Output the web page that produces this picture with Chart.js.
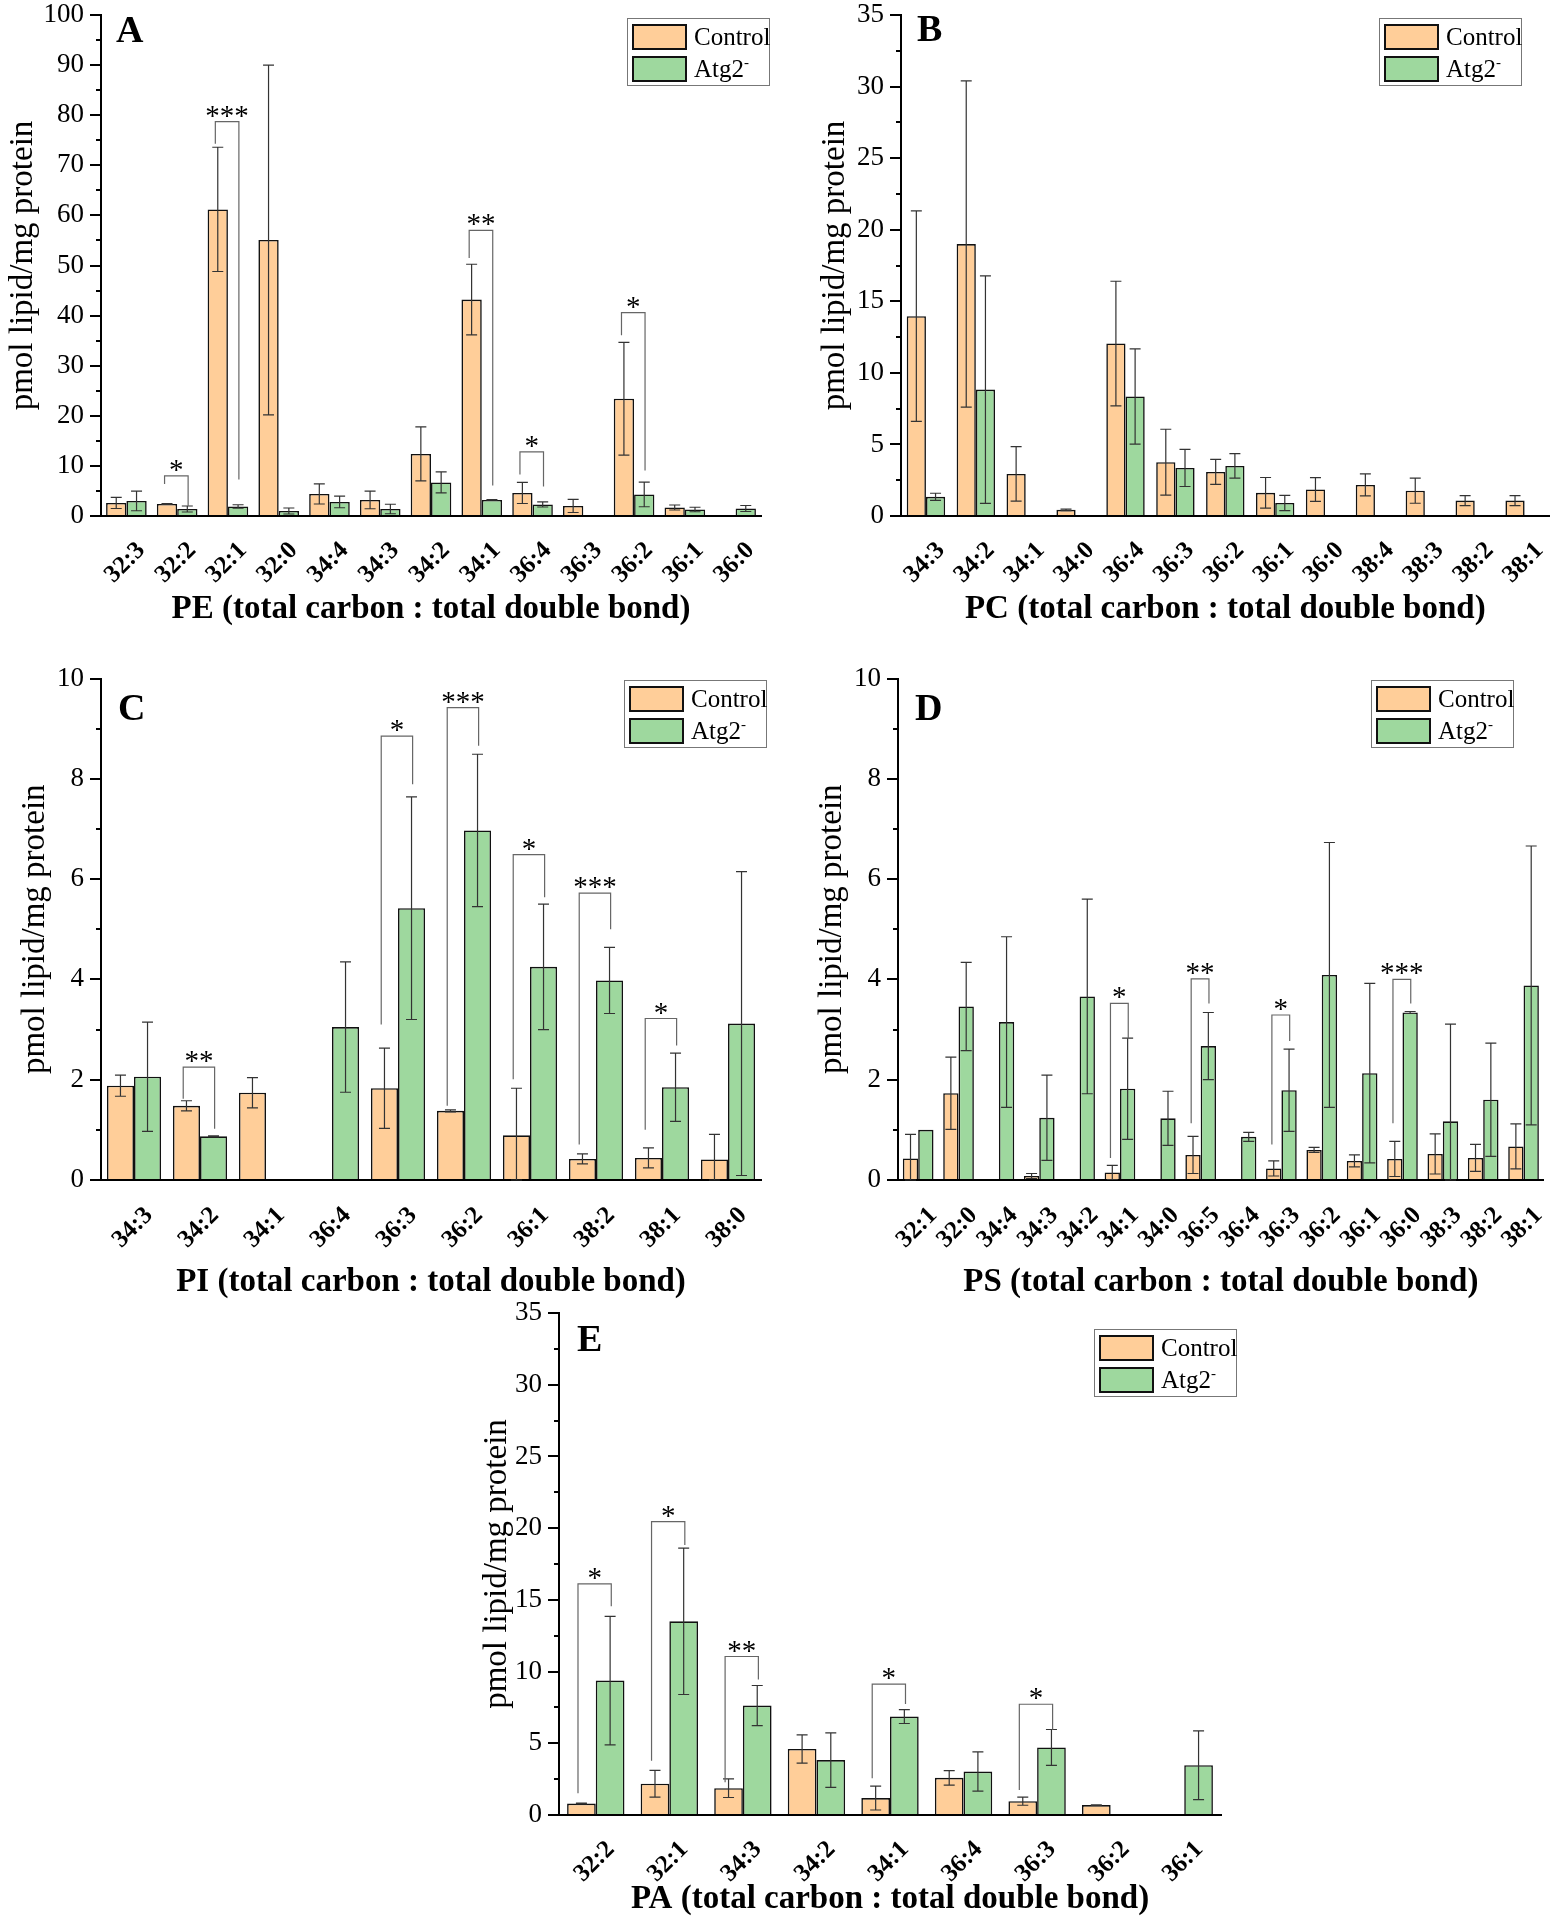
<!DOCTYPE html>
<html><head><meta charset="utf-8">
<script src="https://cdn.jsdelivr.net/npm/chart.js@4.4.1/dist/chart.umd.min.js"></script>
<style>
html,body{margin:0;padding:0;background:#fff;width:1566px;height:1920px;overflow:hidden;position:relative;font-family:'Liberation Serif',serif;}
canvas{position:absolute;}
.legend{position:absolute;border:1px solid #777;background:#fff;box-sizing:border-box;width:143px;height:68px;}
.sw{position:absolute;left:4px;width:55px;height:26px;border:2px solid #111;box-sizing:border-box;}
.lt{position:absolute;left:66px;font-size:25px;line-height:26px;color:#000;white-space:nowrap;}
.lt sup{font-size:60%;vertical-align:top;line-height:12px;}
</style></head><body>
<script>
// ---------- Panel A : PE ----------
const peCategories = ['32:3','32:2','32:1','32:0','34:4','34:3','34:2','34:1','36:4','36:3','36:2','36:1','36:0'];
const peControl    = [2.6, 2.4, 61.2, 55.1, 4.4, 3.2, 12.4, 43.2, 4.6, 2.0, 23.4, 1.7, null];
const peControlSD  = [1.1, 0.1, 12.4, 34.9, 2.0, 1.75, 5.4, 7.05, 2.1, 1.3, 11.25, 0.5, null];
const peAtg2       = [3.0, 1.4, 1.9, 1.0, 2.8, 1.4, 6.7, 3.2, 2.3, null, 4.3, 1.3, 1.5];
const peAtg2SD     = [1.95, 0.6, 0.35, 0.6, 1.15, 0.95, 2.1, 0.05, 0.5, null, 2.45, 0.45, 0.6];
const peSigCategories = ['32:2','32:1','34:1','36:4','36:2'];
const peSigLabels     = ['*','***','**','*','*'];
const peSigTop        = [8.0, 78.7, 57.0, 12.8, 40.6];
const peSigLeft       = [6.4, 74.3, 51.5, 8.3, 36.1];
const peSigRight      = [2.0, 7.3, 6.1, 5.9, 9.1];
const peYMax = 100, peYStep = 10;

// ---------- Panel B : PC ----------
const pcCategories = ['34:3','34:2','34:1','34:0','36:4','36:3','36:2','36:1','36:0','38:4','38:3','38:2','38:1'];
const pcControl    = [13.96, 19.0, 2.94, 0.43, 12.05, 3.76, 3.08, 1.62, 1.85, 2.17, 1.77, 1.08, 1.08];
const pcControlSD  = [7.35, 11.4, 1.9, 0.05, 4.35, 2.3, 0.87, 1.07, 0.83, 0.77, 0.88, 0.35, 0.35];
const pcAtg2       = [1.34, 8.83, null, null, 8.35, 3.36, 3.5, 0.91, null, null, null, null, null];
const pcAtg2SD     = [0.25, 7.95, null, null, 3.33, 1.3, 0.86, 0.53, null, null, null, null, null];
const pcSigCategories = [], pcSigLabels = [], pcSigTop = [], pcSigLeft = [], pcSigRight = [];
const pcYMax = 35, pcYStep = 5;

// ---------- Panel C : PI ----------
const piCategories = ['34:3','34:2','34:1','36:4','36:3','36:2','36:1','38:2','38:1','38:0'];
const piControl    = [1.88, 1.48, 1.74, null, 1.83, 1.38, 0.89, 0.42, 0.44, 0.41];
const piControlSD  = [0.21, 0.1, 0.3, null, 0.8, 0.02, 0.94, 0.1, 0.2, 0.5];
const piAtg2       = [2.06, 0.87, null, 3.05, 5.42, 6.97, 4.25, 3.98, 1.85, 3.12];
const piAtg2SD     = [1.09, 0.01, null, 1.3, 2.22, 1.52, 1.25, 0.66, 0.68, 3.03];
const piSigCategories = ['34:2','36:3','36:2','36:1','38:2','38:1'];
const piSigLabels     = ['**','*','***','*','***','*'];
const piSigTop        = [2.25, 8.85, 9.42, 6.49, 5.72, 3.22];
const piSigLeft       = [1.62, 3.1, 1.48, 2.01, 0.71, 1.0];
const piSigRight      = [1.02, 7.89, 8.66, 5.64, 5.0, 2.68];
const piYMax = 10, piYStep = 2;

// ---------- Panel D : PS ----------
const psCategories = ['32:1','32:0','34:4','34:3','34:2','34:1','34:0','36:5','36:4','36:3','36:2','36:1','36:0','38:3','38:2','38:1'];
const psControl    = [0.43, 1.73, null, 0.08, null, 0.15, null, 0.5, null, 0.23, 0.6, 0.38, 0.42, 0.52, 0.44, 0.67];
const psControlSD  = [0.48, 0.72, null, 0.05, null, 0.14, null, 0.37, null, 0.15, 0.05, 0.12, 0.35, 0.4, 0.27, 0.45];
const psAtg2       = [1.0, 3.46, 3.15, 1.24, 3.66, 1.82, 1.23, 2.67, 0.86, 1.79, 4.09, 2.13, 3.34, 1.17, 1.6, 3.88];
const psAtg2SD     = [0, 0.88, 1.7, 0.85, 1.94, 1.01, 0.54, 0.67, 0.09, 0.82, 2.64, 1.79, 0.02, 1.94, 1.13, 2.78];
const psSigCategories = ['34:1','36:5','36:3','36:0'];
const psSigLabels     = ['*','**','*','***'];
const psSigTop        = [3.52, 4.01, 3.29, 4.0];
const psSigLeft       = [0.44, 1.13, 0.71, 1.13];
const psSigRight      = [2.81, 3.52, 2.77, 3.52];
const psYMax = 10, psYStep = 2;

// ---------- Panel E : PA ----------
const paCategories = ['32:2','32:1','34:3','34:2','34:1','36:4','36:3','36:2','36:1'];
const paControl    = [0.8, 2.18, 1.87, 4.6, 1.18, 2.59, 0.96, 0.69, null];
const paControlSD  = [0.03, 0.93, 0.65, 0.99, 0.83, 0.51, 0.28, 0.02, null];
const paAtg2       = [9.37, 13.5, 7.63, 3.83, 6.86, 3.03, 4.71, null, 3.47];
const paAtg2SD     = [4.48, 5.1, 1.4, 1.9, 0.48, 1.37, 1.25, null, 2.4];
const paSigCategories = ['32:2','32:1','34:3','34:1','36:3'];
const paSigLabels     = ['*','*','**','*','*'];
const paSigTop        = [16.12, 20.45, 11.05, 9.12, 7.72];
const paSigLeft       = [1.52, 3.78, 2.29, 2.56, 1.74];
const paSigRight      = [14.55, 18.82, 9.45, 7.74, 5.95];
const paYMax = 35, paYStep = 5;

const seriesNames = ['Control', 'Atg2-'];
const yAxisTitle = 'pmol lipid/mg protein';
</script>
<script>
const FONT = '"Liberation Serif", "Times New Roman", serif';
const COLORS = ['rgb(255,206,153)', 'rgb(158,216,158)'];
const XT_SIZE = 33, YT_SIZE = 33;

function makeAnnot(cfg) {
  return {
    id: 'annot',
    afterDatasetsDraw(chart) {
      const ctx = chart.ctx, ys = chart.scales.y;
      const capHalf = 5.5;
      ctx.save();
      ctx.strokeStyle = '#333'; ctx.lineWidth = 1.2;
      [cfg.controlSD, cfg.atgSD].forEach((sdArr, di) => {
        const meta = chart.getDatasetMeta(di);
        const vals = chart.data.datasets[di].data;
        vals.forEach((v, i) => {
          if (v == null || sdArr[i] == null || sdArr[i] <= 0) return;
          const x = meta.data[i].x;
          const yt = ys.getPixelForValue(v + sdArr[i]);
          const yb = ys.getPixelForValue(Math.max(0, v - sdArr[i]));
          ctx.beginPath();
          ctx.moveTo(x, yt); ctx.lineTo(x, yb);
          ctx.moveTo(x - capHalf, yt); ctx.lineTo(x + capHalf, yt);
          ctx.moveTo(x - capHalf, yb); ctx.lineTo(x + capHalf, yb);
          ctx.stroke();
        });
      });
      const m0 = chart.getDatasetMeta(0), m1 = chart.getDatasetMeta(1);
      ctx.strokeStyle = '#666'; ctx.lineWidth = 1.2;
      ctx.fillStyle = '#000';
      ctx.font = '29px ' + FONT;
      ctx.textAlign = 'center'; ctx.textBaseline = 'alphabetic';
      cfg.sigCats.forEach((cat, k) => {
        const i = chart.data.labels.indexOf(cat);
        if (i < 0) return;
        const b0 = m0.data[i], b1 = m1.data[i];
        const x1 = b0.x - b0.width * 0.12, x2 = b1.x + b1.width * 0.04;
        const yTop = ys.getPixelForValue(cfg.sigTop[k]);
        const yL = ys.getPixelForValue(cfg.sigLeft[k]);
        const yR = ys.getPixelForValue(cfg.sigRight[k]);
        ctx.beginPath();
        ctx.moveTo(x1, yL); ctx.lineTo(x1, yTop); ctx.lineTo(x2, yTop); ctx.lineTo(x2, yR);
        ctx.stroke();
        ctx.fillText(cfg.sigLabels[k], (x1 + x2) / 2, yTop + 3);
      });
      ctx.restore();
    },
    afterDraw(chart) {
      const ctx = chart.ctx, ys = chart.scales.y, ca = chart.chartArea;
      ctx.save();
      ctx.strokeStyle = '#000'; ctx.lineWidth = 2;
      const t = ys.ticks;
      for (let k = 0; k < t.length - 1; k++) {
        const py = Math.round(ys.getPixelForValue((t[k].value + t[k + 1].value) / 2));
        ctx.beginPath(); ctx.moveTo(ca.left - 5, py); ctx.lineTo(ca.left, py); ctx.stroke();
      }
      ctx.fillStyle = '#000';
      ctx.font = 'bold 38px ' + FONT;
      ctx.textAlign = 'left'; ctx.textBaseline = 'alphabetic';
      ctx.fillText(cfg.letter, ca.left + cfg.letterDx, ca.top + cfg.letterDy);
      ctx.restore();
    }
  };
}

function makePanel(cfg) {
  const cv = document.createElement('canvas');
  cv.width = cfg.canvas.w; cv.height = cfg.canvas.h;
  cv.style.left = cfg.canvas.x + 'px'; cv.style.top = cfg.canvas.y + 'px';
  cv.style.width = cfg.canvas.w + 'px'; cv.style.height = cfg.canvas.h + 'px';
  document.body.appendChild(cv);
  const padTop = cfg.area.T - cfg.canvas.y;
  const padRight = cfg.canvas.x + cfg.canvas.w - cfg.area.R;
  const yW = cfg.area.L - cfg.canvas.x;
  const xH = cfg.canvas.y + cfg.canvas.h - cfg.area.B;
  const yTitlePad = cfg.yTitleX - cfg.canvas.x - (YT_SIZE * 1.2) / 2;
  const xTitlePad = Math.max(0, cfg.canvas.y + cfg.canvas.h - cfg.xTitleY - (XT_SIZE * 1.2) / 2);
  new Chart(cv, {
    type: 'bar',
    data: {
      labels: cfg.categories,
      datasets: [
        { label: seriesNames[0], data: cfg.control, backgroundColor: COLORS[0], borderColor: '#111', borderWidth: 1.6 },
        { label: seriesNames[1], data: cfg.atg, backgroundColor: COLORS[1], borderColor: '#111', borderWidth: 1.6 }
      ]
    },
    options: {
      responsive: false, animation: false, devicePixelRatio: 1,
      layout: { padding: { top: padTop, right: padRight, left: 0, bottom: 0 } },
      datasets: { bar: { categoryPercentage: cfg.catPct, barPercentage: 1 } },
      plugins: { legend: { display: false }, tooltip: { enabled: false } },
      scales: {
        x: {
          type: 'category', offset: true,
          grid: { display: false, drawTicks: false },
          border: { display: true, color: '#000', width: 2 },
          ticks: { font: { family: FONT, size: 25, weight: 'bold' }, color: '#000', minRotation: 45, maxRotation: 45, autoSkip: false, padding: cfg.labelPad, labelOffset: 15 },
          title: { display: true, text: cfg.xTitle, font: { family: FONT, size: XT_SIZE, weight: 'bold' }, color: '#000', padding: { top: 0, bottom: xTitlePad } },
          afterFit: s => { s.height = xH; }
        },
        y: {
          min: 0, max: cfg.yMax,
          ticks: { stepSize: cfg.yStep, font: { family: FONT, size: 27 }, color: '#000', padding: 6 },
          grid: { display: true, drawOnChartArea: false, drawTicks: true, tickLength: 11, color: '#000', lineWidth: 2 },
          border: { display: true, color: '#000', width: 2 },
          title: { display: true, text: yAxisTitle, font: { family: FONT, size: YT_SIZE }, color: '#000', padding: { top: yTitlePad, bottom: 0 } },
          afterFit: s => { s.width = yW; }
        }
      }
    },
    plugins: [makeAnnot(cfg)]
  });
  const lg = document.createElement('div');
  lg.className = 'legend';
  lg.style.left = cfg.legend.x + 'px'; lg.style.top = cfg.legend.y + 'px';
  lg.innerHTML =
    '<div class="sw" style="top:5px;background:' + COLORS[0] + '"></div>' +
    '<div class="lt" style="top:5px">' + seriesNames[0] + '</div>' +
    '<div class="sw" style="top:37px;background:' + COLORS[1] + '"></div>' +
    '<div class="lt" style="top:37px">Atg2<sup>-</sup></div>';
  document.body.appendChild(lg);
}

makePanel({
  categories: peCategories, control: peControl, controlSD: peControlSD, atg: peAtg2, atgSD: peAtg2SD,
  sigCats: peSigCategories, sigLabels: peSigLabels, sigTop: peSigTop, sigLeft: peSigLeft, sigRight: peSigRight,
  yMax: peYMax, yStep: peYStep, catPct: 0.80, labelPad: 20,
  xTitle: 'PE (total carbon : total double bond)',
  canvas: { x: 0, y: -10, w: 780, h: 640 }, area: { L: 101, T: 15, R: 761, B: 516 },
  yTitleX: 23, xTitleY: 609,
  letter: 'A', letterDx: 15, letterDy: 27, legend: { x: 627, y: 18 }
});
makePanel({
  categories: pcCategories, control: pcControl, controlSD: pcControlSD, atg: pcAtg2, atgSD: pcAtg2SD,
  sigCats: pcSigCategories, sigLabels: pcSigLabels, sigTop: pcSigTop, sigLeft: pcSigLeft, sigRight: pcSigRight,
  yMax: pcYMax, yStep: pcYStep, catPct: 0.77, labelPad: 20,
  xTitle: 'PC (total carbon : total double bond)',
  canvas: { x: 790, y: -10, w: 776, h: 640 }, area: { L: 901, T: 15, R: 1562, B: 516 },
  yTitleX: 835, xTitleY: 609,
  letter: 'B', letterDx: 16, letterDy: 26, legend: { x: 1379, y: 18 }
});
makePanel({
  categories: piCategories, control: piControl, controlSD: piControlSD, atg: piAtg2, atgSD: piAtg2SD,
  sigCats: piSigCategories, sigLabels: piSigLabels, sigTop: piSigTop, sigLeft: piSigLeft, sigRight: piSigRight,
  yMax: piYMax, yStep: piYStep, catPct: 0.82, labelPad: 21,
  xTitle: 'PI (total carbon : total double bond)',
  canvas: { x: 0, y: 645, w: 780, h: 660 }, area: { L: 101, T: 678.5, R: 761, B: 1180 },
  yTitleX: 35, xTitleY: 1282,
  letter: 'C', letterDx: 17, letterDy: 41, legend: { x: 624, y: 680 }
});
makePanel({
  categories: psCategories, control: psControl, controlSD: psControlSD, atg: psAtg2, atgSD: psAtg2SD,
  sigCats: psSigCategories, sigLabels: psSigLabels, sigTop: psSigTop, sigLeft: psSigLeft, sigRight: psSigRight,
  yMax: psYMax, yStep: psYStep, catPct: 0.76, labelPad: 21,
  xTitle: 'PS (total carbon : total double bond)',
  canvas: { x: 790, y: 645, w: 776, h: 660 }, area: { L: 898, T: 678.5, R: 1558, B: 1180 },
  yTitleX: 832, xTitleY: 1282,
  letter: 'D', letterDx: 17, letterDy: 41, legend: { x: 1371, y: 680 }
});
makePanel({
  categories: paCategories, control: paControl, controlSD: paControlSD, atg: paAtg2, atgSD: paAtg2SD,
  sigCats: paSigCategories, sigLabels: paSigLabels, sigTop: paSigTop, sigLeft: paSigLeft, sigRight: paSigRight,
  yMax: paYMax, yStep: paYStep, catPct: 0.78, labelPad: 20,
  xTitle: 'PA (total carbon : total double bond)',
  canvas: { x: 440, y: 1290, w: 800, h: 630 }, area: { L: 559, T: 1313, R: 1221, B: 1815 },
  yTitleX: 497, xTitleY: 1899,
  letter: 'E', letterDx: 18, letterDy: 38, legend: { x: 1094, y: 1329 }
});
</script>
</body></html>
